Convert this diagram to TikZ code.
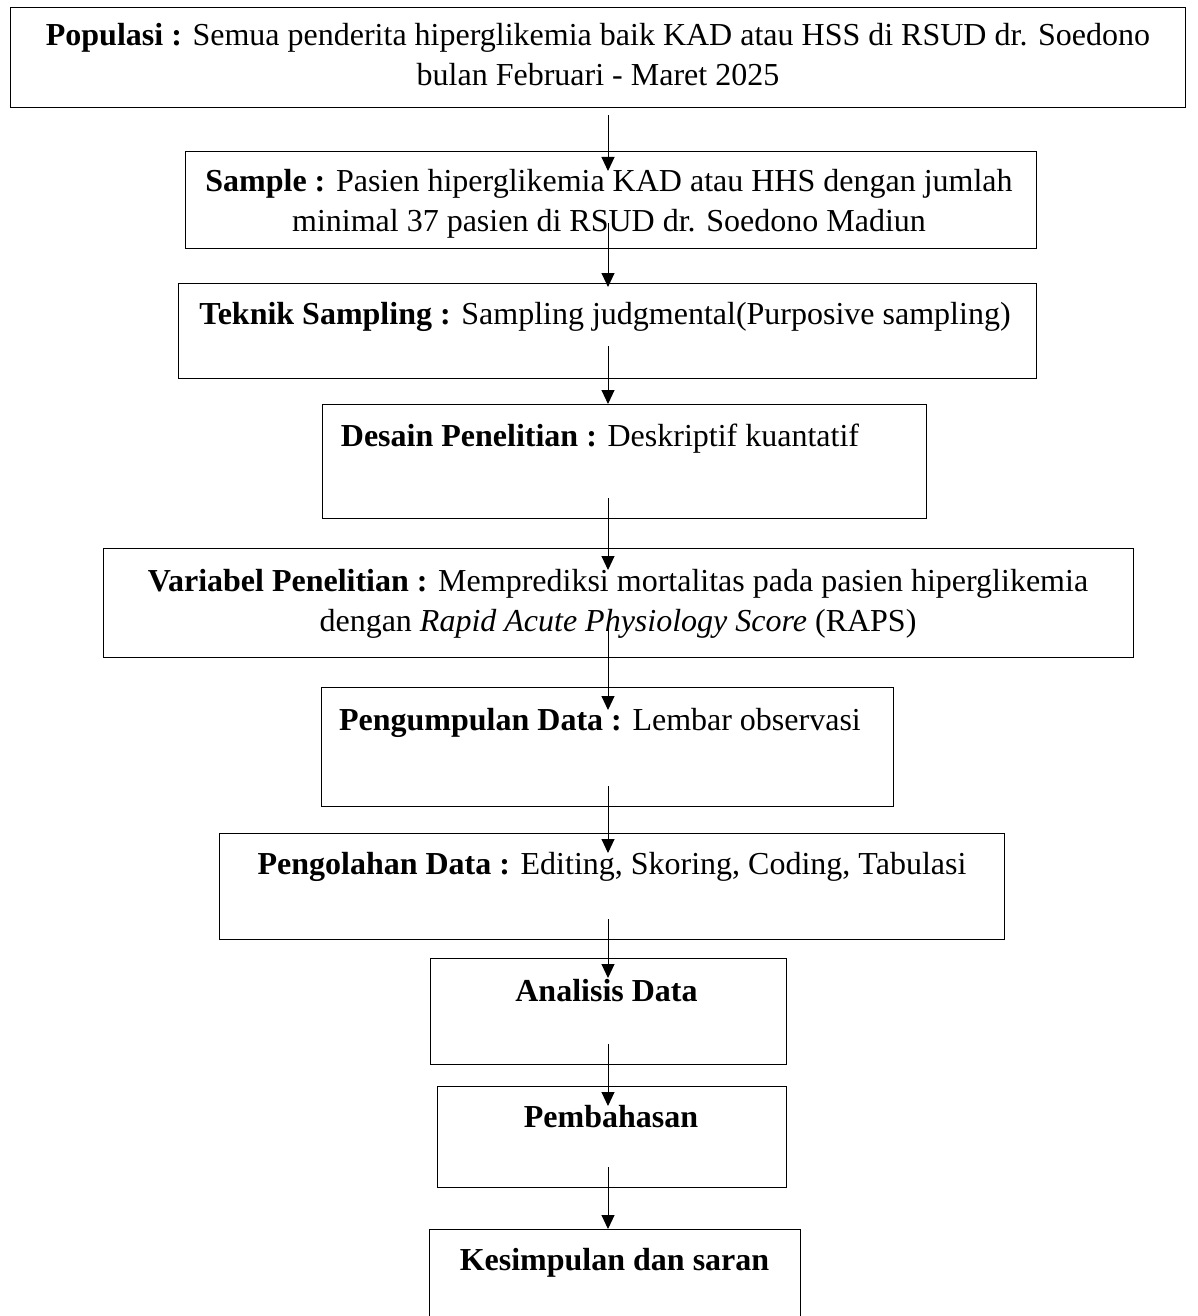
\documentclass[tikz,border=0pt]{standalone}
\usepackage{fontspec}
\setmainfont{Liberation Serif}
\usetikzlibrary{arrows.meta,calc}
\definecolor{white}{RGB}{255,255,255}
\definecolor{black}{RGB}{0,0,0}

\begin{document}
\begin{tikzpicture}[x=1pt,y=1pt,
	kotak/.style={rectangle,draw=black,line width=1.2pt,inner sep=0pt,anchor=north west},
	isi/.style={inner sep=0pt,anchor=north,align=center,font=\fontsize{32}{40}\selectfont},
	panah/.style={black,line width=1pt,-{Triangle[length=14pt,width=13pt]}}]
	\useasboundingbox[fill=white] (0,0) rectangle (1197,-1316);
	\clip (0,0) rectangle (1197,-1316);

	\node[kotak,minimum width=1175pt,minimum height=100pt] (1) at (10,-7) {};
	\node[kotak,minimum width=851pt,minimum height=97pt] (2) at (185,-151) {};
	\node[kotak,minimum width=858pt,minimum height=95pt] (3) at (178,-283) {};
	\node[kotak,minimum width=604pt,minimum height=114pt] (4) at (322,-404) {};
	\node[kotak,minimum width=1030pt,minimum height=109pt] (5) at (103,-548) {};
	\node[kotak,minimum width=572pt,minimum height=119pt] (6) at (321,-687) {};
	\node[kotak,minimum width=785pt,minimum height=106pt] (7) at (219,-833) {};
	\node[kotak,minimum width=356pt,minimum height=106pt] (8) at (430,-958) {};
	\node[kotak,minimum width=349pt,minimum height=101pt] (9) at (437,-1086) {};
	\node[kotak,minimum width=371pt,minimum height=120pt] (10) at (429,-1229) {};

	\node[isi] (t1) at (598,-23) {\textbf{Populasi :} Semua penderita hiperglikemia baik KAD atau HSS di RSUD dr. Soedono\\bulan Februari - Maret 2025};
	\node[isi] (t2) at (609,-169) {\textbf{Sample :} Pasien hiperglikemia KAD atau HHS dengan jumlah\\minimal 37 pasien di RSUD dr. Soedono Madiun};
	\node[isi] (t3) at (605,-302) {\textbf{Teknik Sampling :} Sampling judgmental(Purposive sampling)};
	\node[isi] (t4) at (600,-424) {\textbf{Desain Penelitian :} Deskriptif kuantatif};
	\node[isi] (t5) at (618,-569) {\textbf{Variabel Penelitian :} Memprediksi mortalitas pada pasien hiperglikemia\\dengan \textit{Rapid Acute Physiology Score} (RAPS)};
	\node[isi] (t6) at (600,-708) {\textbf{Pengumpulan Data :} Lembar observasi};
	\node[isi] (t7) at (612,-852) {\textbf{Pengolahan Data :} Editing, Skoring, Coding, Tabulasi};
	\node[isi] (t8) at (606.5,-979) {\textbf{Analisis Data}};
	\node[isi] (t9) at (611,-1105) {\textbf{Pembahasan}};
	\node[isi] (t10) at (614.5,-1248) {\textbf{Kesimpulan dan saran}};

	\coordinate (kol) at (608,0);
	\foreach \x/\y/\s/\e in {1/2/-7/-20,2/3/26/-4,3/4/33/0,4/5/21/-22,5/6/32/-23,6/7/21/-20,7/8/21/-20,8/9/21/-20,9/10/21/0}
		\draw[panah] ($(kol |- \x.south)+(0,\s)$) -- ($(kol |- \y.north)+(0,\e)$);
\end{tikzpicture}
\end{document}
